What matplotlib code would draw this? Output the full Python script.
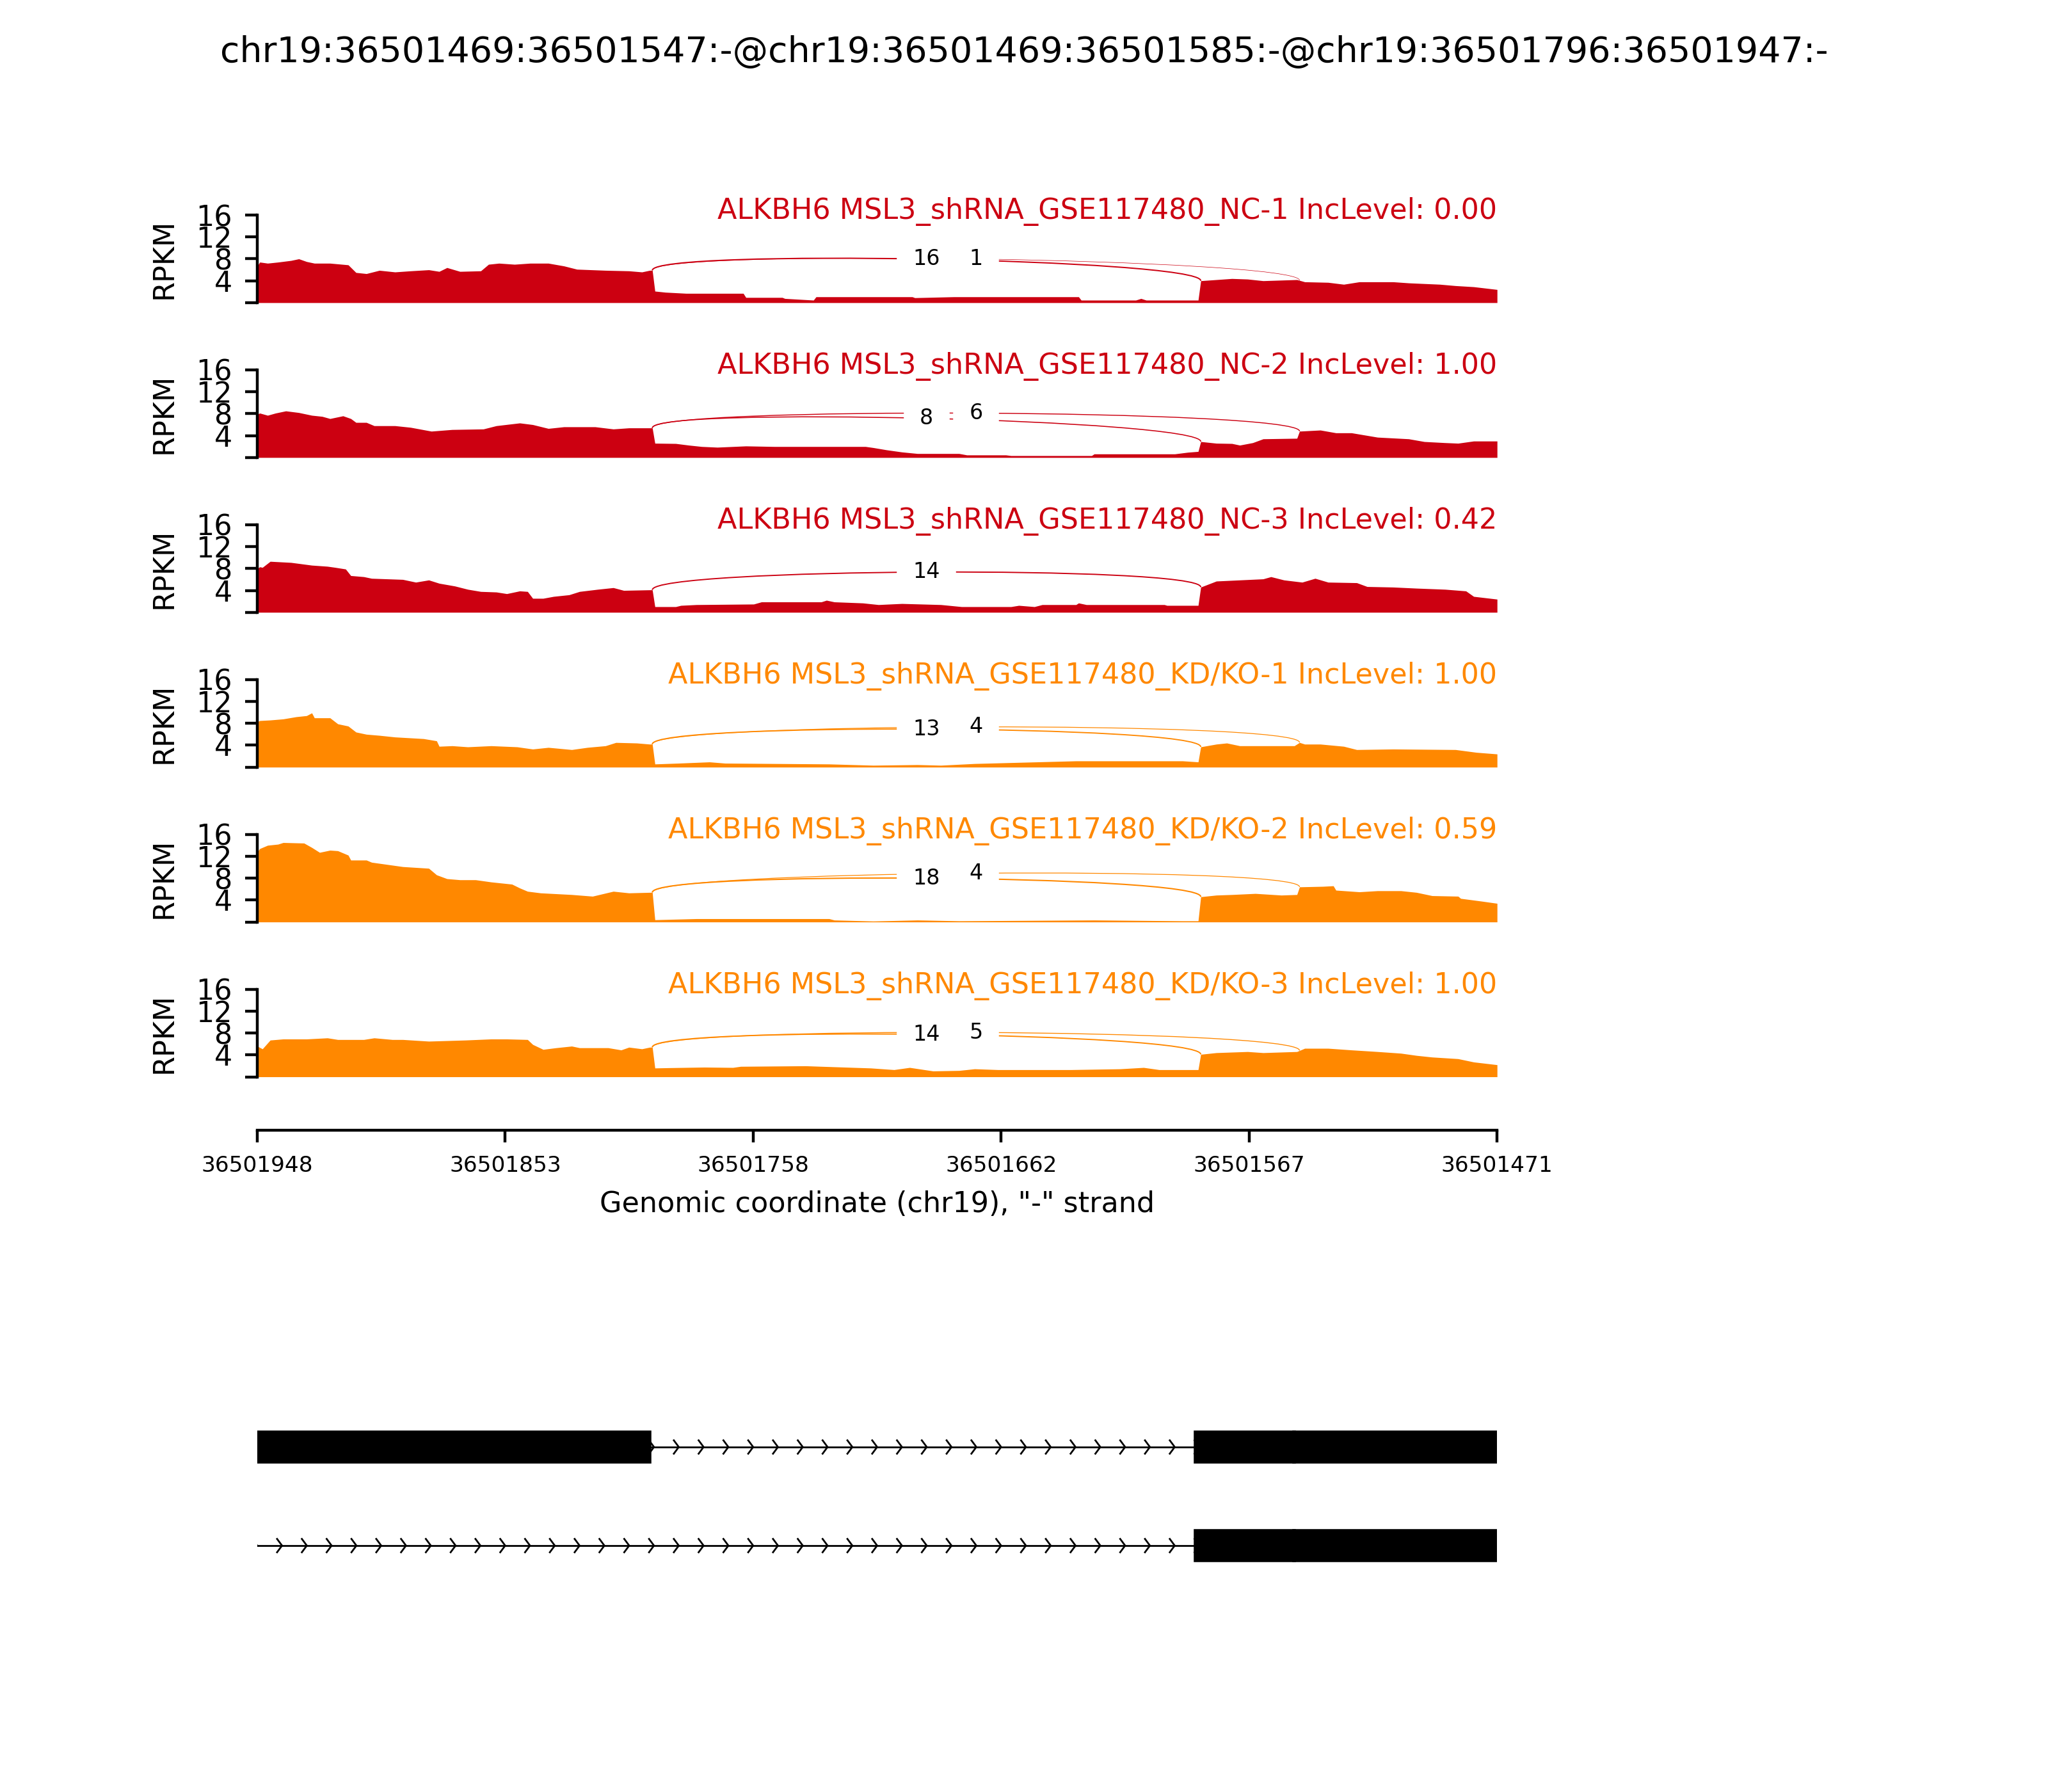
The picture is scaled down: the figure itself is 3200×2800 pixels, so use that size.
import numpy as np
import matplotlib
matplotlib.use('Agg')
import matplotlib.pyplot as plt
from matplotlib.path import Path
from matplotlib.patches import PathPatch, Rectangle

# region shown (minus strand, so the axis runs from high to low coordinate)
START = 36501948
END = 36501471
EVENT = 'chr19:36501469:36501547:-@chr19:36501469:36501585:-@chr19:36501796:36501947:-'
XLABEL = 'Genomic coordinate (chr19), "-" strand'

samples = ['ALKBH6 MSL3_shRNA_GSE117480_NC-1', 'ALKBH6 MSL3_shRNA_GSE117480_NC-2',
           'ALKBH6 MSL3_shRNA_GSE117480_NC-3', 'ALKBH6 MSL3_shRNA_GSE117480_KD/KO-1',
           'ALKBH6 MSL3_shRNA_GSE117480_KD/KO-2', 'ALKBH6 MSL3_shRNA_GSE117480_KD/KO-3']
inc_levels = ['0.00', '1.00', '0.42', '1.00', '0.59', '1.00']
colors = ['#CC0011', '#CC0011', '#CC0011', '#FF8800', '#FF8800', '#FF8800']

# coverage (RPKM) read at bp offsets from START
off1 = [0, 1, 4, 8, 13, 16, 19, 22, 28, 35, 38, 42, 47, 53, 59, 66, 70, 73, 78, 86, 89, 93, 99, 105, 112, 118, 123, 134, 143, 148, 151, 152,
        153, 157, 165, 187, 188, 202, 203, 214, 215, 252, 253, 268, 316, 317, 338, 340, 342, 362,
        363, 369, 375, 381, 387, 400, 403, 412, 418, 424, 437, 443, 455, 461, 468, 477]
cov1 = [6.7, 7.4, 7.2, 7.4, 7.7, 8.0, 7.5, 7.2, 7.2, 6.9, 5.5, 5.3, 5.9, 5.6, 5.8, 6.0, 5.7, 6.4, 5.7, 5.8, 7.0, 7.2, 7.0, 7.2, 7.2, 6.7, 6.1, 5.9, 5.8, 5.6, 5.9, 5.9,
        2.1, 1.9, 1.7, 1.7, 0.95, 0.95, 0.76, 0.46, 1.07, 1.07, 0.9, 1.07, 1.07, 0.46, 0.46, 0.76, 0.46, 0.46,
        4.0, 4.2, 4.4, 4.3, 4.0, 4.2, 3.8, 3.7, 3.35, 3.8, 3.8, 3.6, 3.35, 3.1, 2.9, 2.4]

off2 = [0, 1, 4, 7, 11, 16, 21, 25, 28, 33, 36, 38, 42, 45, 53, 59, 67, 75, 87, 92, 101, 106, 112, 118, 130, 137, 143, 151, 152,
        153, 161, 166, 171, 177, 188, 199, 234, 237, 242, 248, 254, 270, 273, 288, 290, 321, 322, 353, 358, 362,
        363, 369, 375, 378, 383, 387, 400, 401, 409, 415, 421, 426, 431, 443, 449, 457, 462, 468, 477]
cov2 = [7.9, 8.1, 7.7, 8.1, 8.5, 8.2, 7.7, 7.5, 7.1, 7.6, 7.1, 6.4, 6.4, 5.8, 5.8, 5.5, 4.8, 5.1, 5.2, 5.8, 6.3, 6.0, 5.3, 5.6, 5.6, 5.2, 5.4, 5.4, 5.4,
        2.6, 2.55, 2.25, 2.0, 1.87, 2.1, 2.0, 2.0, 1.8, 1.4, 1.0, 0.72, 0.72, 0.46, 0.46, 0.34, 0.34, 0.65, 0.65, 0.95, 1.1,
        2.9, 2.6, 2.55, 2.25, 2.7, 3.4, 3.5, 4.8, 5.0, 4.5, 4.5, 4.1, 3.7, 3.4, 2.9, 2.7, 2.6, 3.0, 3.0]

off3 = [0, 1, 2, 5, 13, 21, 27, 30, 34, 36, 41, 44, 50, 56, 61, 66, 70, 76, 81, 86, 92, 96, 101, 104, 106, 110, 114, 120, 124, 131, 137, 141, 151, 152,
        153, 161, 163, 169, 191, 194, 217, 219, 222, 233, 239, 248, 263, 271, 290, 293, 299, 302, 315, 316, 319, 349, 350, 362,
        363, 369, 387, 390, 395, 402, 407, 412, 423, 427, 437, 446, 457, 465, 468, 477]
cov3 = [8.0, 8.3, 8.2, 9.3, 9.1, 8.6, 8.4, 8.2, 7.9, 6.7, 6.5, 6.2, 6.1, 6.0, 5.5, 5.9, 5.3, 4.8, 4.2, 3.8, 3.7, 3.4, 3.9, 3.8, 2.55, 2.55, 2.9, 3.2, 3.8, 4.2, 4.5, 4.0, 4.1, 4.1,
        1.03, 1.03, 1.26, 1.4, 1.5, 1.9, 1.9, 2.2, 1.9, 1.7, 1.4, 1.6, 1.4, 1.03, 1.03, 1.26, 1.03, 1.4, 1.4, 1.7, 1.4, 1.4, 1.26, 1.26,
        4.6, 5.7, 6.1, 6.5, 5.9, 5.5, 6.2, 5.5, 5.4, 4.7, 4.6, 4.4, 4.2, 3.9, 2.9, 2.4]

off4 = [0, 1, 5, 10, 15, 19, 21, 22, 28, 31, 35, 38, 42, 47, 53, 64, 69, 70, 75, 81, 90, 100, 106, 112, 121, 127, 134, 138, 146, 151, 152,
        153, 162, 174, 180, 220, 237, 254, 263, 276, 300, 315, 356, 362,
        363, 369, 373, 378, 399, 401, 403, 409, 418, 423, 437, 461, 469, 477]
cov4 = [8.3, 8.5, 8.6, 8.8, 9.2, 9.4, 9.9, 9.0, 9.0, 7.9, 7.5, 6.4, 6.0, 5.8, 5.5, 5.2, 4.8, 3.8, 3.9, 3.7, 3.9, 3.7, 3.3, 3.6, 3.2, 3.6, 3.9, 4.5, 4.4, 4.2, 4.2,
        0.57, 0.72, 0.95, 0.72, 0.57, 0.34, 0.45, 0.34, 0.65, 0.95, 1.14, 1.14, 0.95,
        3.7, 4.2, 4.4, 3.9, 3.9, 4.5, 4.2, 4.2, 3.8, 3.2, 3.3, 3.2, 2.7, 2.4]

off5 = [0, 1, 4, 8, 10, 18, 21, 24, 28, 31, 35, 36, 42, 44, 50, 56, 66, 69, 73, 78, 84, 90, 98, 101, 104, 109, 121, 129, 137, 143, 151, 152,
        153, 169, 220, 222, 237, 254, 270, 322, 356, 362,
        363, 369, 375, 384, 394, 400, 401, 410, 414, 415, 424, 431, 440, 446, 452, 462, 463, 471, 477]
cov5 = [12.8, 13.4, 14.0, 14.2, 14.5, 14.4, 13.6, 12.7, 13.1, 13.0, 12.2, 11.3, 11.3, 10.9, 10.5, 10.1, 9.8, 8.6, 7.9, 7.7, 7.7, 7.3, 6.9, 6.2, 5.6, 5.3, 5.0, 4.7, 5.6, 5.3, 5.4, 5.4,
        0.4, 0.6, 0.6, 0.35, 0.16, 0.35, 0.2, 0.35, 0.2, 0.2,
        4.6, 4.9, 5.0, 5.2, 4.9, 5.0, 6.4, 6.5, 6.6, 5.8, 5.5, 5.7, 5.7, 5.4, 4.8, 4.7, 4.3, 3.8, 3.4]

off6 = [0, 2, 5, 10, 19, 27, 31, 41, 45, 52, 56, 66, 80, 90, 96, 104, 106, 110, 115, 121, 124, 135, 140, 143, 148, 151, 152,
        153, 158, 172, 183, 186, 211, 217, 236, 245, 251, 260, 270, 276, 285, 313, 332, 341, 347, 362,
        363, 369, 381, 387, 400, 403, 412, 421, 431, 440, 446, 452, 462, 468, 477]
cov6 = [5.6, 5.1, 6.7, 6.9, 6.9, 7.1, 6.8, 6.8, 7.1, 6.8, 6.8, 6.5, 6.7, 6.9, 6.9, 6.8, 5.9, 5.0, 5.3, 5.6, 5.3, 5.3, 4.9, 5.4, 5.1, 5.4, 5.4,
        1.6, 1.65, 1.76, 1.7, 1.9, 2.0, 1.9, 1.6, 1.3, 1.7, 1.06, 1.15, 1.45, 1.3, 1.3, 1.45, 1.7, 1.3, 1.3,
        4.1, 4.4, 4.6, 4.4, 4.6, 5.2, 5.2, 4.9, 4.6, 4.3, 3.9, 3.6, 3.3, 2.7, 2.2]

offsets = [off1, off2, off3, off4, off5, off6]
coverage = [cov1, cov2, cov3, cov4, cov5, cov6]

# junctions (donor, acceptor) and read counts per sample
jxn_sites = [(36501796, 36501585), (36501796, 36501547)]
jxn_counts = [[16, 1], [8, 6], [14, 0], [13, 4], [18, 4], [14, 5]]

ymax = 16
yticks = [0, 4, 8, 12, 16]
ytick_labels = ['', '4', '8', '12', '16']
xtick_labels = ['36501948', '36501853', '36501758', '36501662', '36501567', '36501471']

# transcript models (exon start, end)
isoforms = [[(36501796, 36501947), (36501548, 36501585), (36501469, 36501547)],
            [(36501548, 36501585), (36501469, 36501547)]]
n_arrows = 50


def cubic_bezier(pts, t):
    p0, p1, p2, p3 = [np.array(p) for p in pts]
    return (1 - t) ** 3 * p0 + 3 * (1 - t) ** 2 * t * p1 + 3 * (1 - t) * t ** 2 * p2 + t ** 3 * p3


fig = plt.figure(figsize=(8, 7), dpi=400)
L, W = 0.1256, 0.6054
H = 0.0489
fig.text(0.5, 0.9707, EVENT, ha='center', va='center', fontsize=10)

for i in range(6):
    bottom = 0.8311 - 0.0864 * i
    ax = fig.add_axes([L, bottom, W, H])
    off = np.array(offsets[i])
    cov = np.array(coverage[i])
    color = colors[i]
    ax.fill_between(START - off, 0, cov, color=color, lw=0)

    # junction arcs above the coverage
    h = ymax / 4.0
    for (ss1, ss2), n in zip(jxn_sites, jxn_counts[i]):
        if n == 0:
            continue
        ld = np.interp(START - ss1, off, cov)
        rd = np.interp(START - ss2, off, cov)
        pts = [(ss1, ld), (ss1, ld + h), (ss2, rd + h), (ss2, rd)]
        mid = cubic_bezier(pts, 0.5)
        path = Path(pts, [Path.MOVETO, Path.CURVE4, Path.CURVE4, Path.CURVE4])
        ax.add_patch(PathPatch(path, ec=color, fc='none', lw=0.25 * np.log10(n + 1) + 0.05))
        ax.text(mid[0], mid[1], str(n), fontsize=6, ha='center', va='center',
                backgroundcolor='w')

    ax.set_xlim(START, END)
    ax.set_ylim(0, ymax)
    for s in ['top', 'right', 'bottom']:
        ax.spines[s].set_visible(False)
    ax.set_xticks([])
    ax.set_yticks(yticks)
    ax.set_yticklabels(ytick_labels, fontsize=8)
    ax.text(-0.075, 0.5, 'RPKM', transform=ax.transAxes, rotation=90,
            ha='center', va='center', fontsize=8)
    ax.text(END, 14, samples[i] + ' IncLevel: ' + inc_levels[i], ha='right', va='bottom',
            fontsize=8, color=color)

# genomic coordinate axis
ax_x = fig.add_axes([L, 0.3693, W, 0.0005])
ax_x.set_xlim(START, END)
for s in ['top', 'right', 'left']:
    ax_x.spines[s].set_visible(False)
ax_x.set_yticks([])
ax_x.set_xticks(np.linspace(START, END, 6))
ax_x.set_xticklabels(xtick_labels, fontsize=6.2)
ax_x.set_xlabel(XLABEL, fontsize=8)

# transcript models
ax_g = fig.add_axes([L, 0.10, W, 0.12])
ax_g.set_xlim(START, END)
ax_g.set_ylim(0, 1)
ax_g.axis('off')
track_y = [0.771, 0.3125]
half = 0.069
span = START - END
spread = 0.2 * span / n_arrows
for yloc, exons in zip(track_y, isoforms):
    ax_g.axhline(yloc, color='k', lw=0.5)
    for k in range(n_arrows):
        loc = START - k * span / n_arrows
        ax_g.plot([loc + spread, loc, loc + spread],
                  [yloc + 0.45 * half, yloc, yloc - 0.45 * half], color='k', lw=0.5)
    for s, e in exons:
        ax_g.add_patch(Rectangle((s + 1, yloc - half), e + 1 - s, 2 * half, color='k', zorder=5))

fig.savefig('out.png', dpi=400)
